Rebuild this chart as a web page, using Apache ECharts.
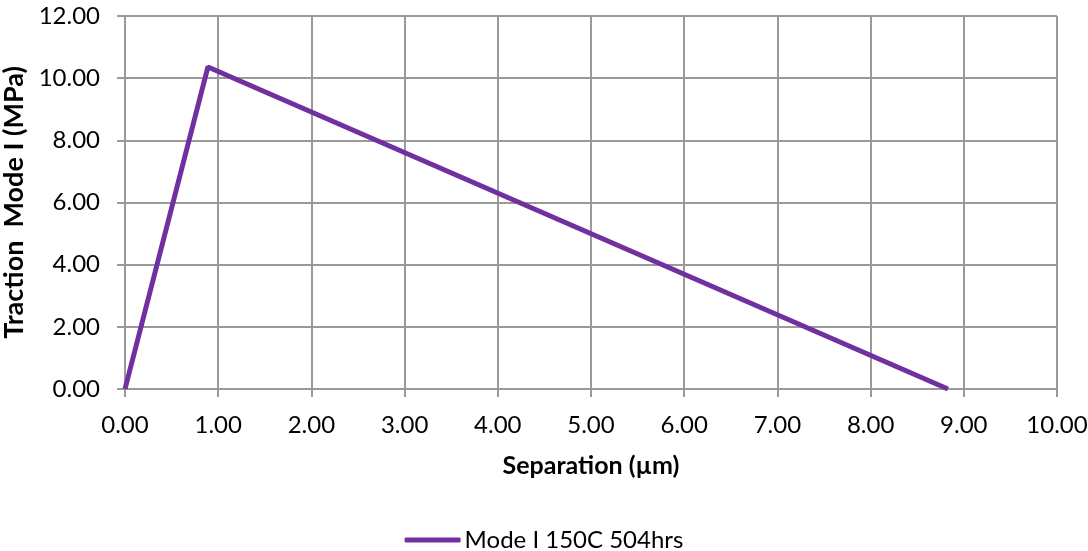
<!DOCTYPE html>
<html>
<head>
<meta charset="utf-8">
<script src="https://cdn.jsdelivr.net/npm/echarts@6/dist/echarts.min.js"></script>
<style>
  html, body { margin: 0; padding: 0; background: #fff; }
  #chart { width: 1088px; height: 551px; }
</style>
</head>
<body>
<div id="chart"></div>
<script>
// Traction-separation law: bilinear cohesive curve
const separation = [0.00, 0.89, 8.83];
const traction = [0.00, 10.36, 0.00];
const seriesName = 'Mode I 150C 504hrs';
const xTitle = 'Separation (\u00b5m)';
const yTitle = 'Traction  Mode I (MPa)';

const font = 'Lato, "Open Sans", sans-serif';
const gridColor = '#9a9a9a';

const chart = echarts.init(document.getElementById('chart'));
chart.setOption({
  animation: false,
  grid: { left: 125, right: 31, top: 16, bottom: 162, containLabel: false, outerBoundsMode: 'none' },
  legend: {
    top: 523,
    left: 'center',
    itemWidth: 56,
    itemHeight: 5,
    itemGap: 4,
    icon: 'roundRect',
    textStyle: { fontFamily: font, fontSize: 24, color: '#000', padding: [0, 0, 0, -1] },
    data: [seriesName]
  },
  xAxis: {
    type: 'value',
    min: 0, max: 10, interval: 1,
    name: xTitle,
    nameLocation: 'middle',
    nameGap: 64,
    nameTextStyle: { fontFamily: font, fontSize: 25, fontWeight: 'bold', color: '#000' },
    axisLine: { lineStyle: { color: gridColor, width: 2 } },
    axisTick: { show: true, length: 8, lineStyle: { color: gridColor, width: 2 } },
    splitLine: { show: true, lineStyle: { color: gridColor, width: 2 } },
    axisLabel: {
      margin: 24,
      fontFamily: font, fontSize: 24, color: '#000',
      formatter: v => v.toFixed(2)
    }
  },
  yAxis: {
    type: 'value',
    min: 0, max: 12, interval: 2,
    name: yTitle,
    nameLocation: 'middle',
    nameGap: 96,
    nameTextStyle: { fontFamily: font, fontSize: 27, fontWeight: 'bold', color: '#000' },
    axisLine: { show: true, lineStyle: { color: gridColor, width: 2 } },
    axisTick: { show: true, length: 8, lineStyle: { color: gridColor, width: 2 } },
    splitLine: { show: true, lineStyle: { color: gridColor, width: 2 } },
    axisLabel: {
      margin: 25,
      fontFamily: font, fontSize: 24, color: '#000',
      formatter: v => v.toFixed(2)
    }
  },
  series: [{
    name: seriesName,
    type: 'line',
    data: separation.map((x, i) => [x, traction[i]]),
    symbol: 'none',
    lineStyle: { color: '#7030a0', width: 5 },
    itemStyle: { color: '#7030a0' }
  }]
});
</script>
</body>
</html>
